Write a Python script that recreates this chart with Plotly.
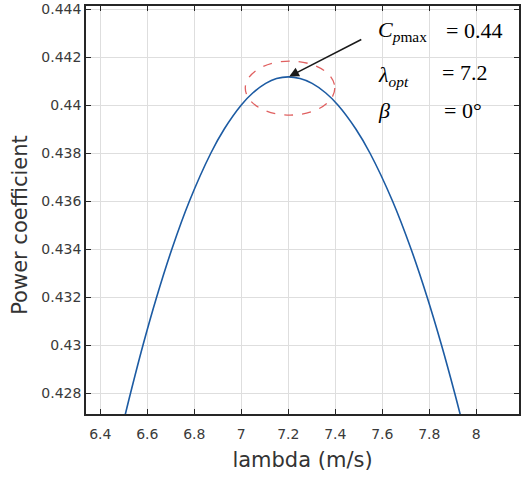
import plotly.graph_objects as go

# Data (lambda, power coefficient)
lam = [6.5036, 6.5287, 6.5817, 6.6398, 6.7046, 6.7794, 6.8706, 6.9275, 7.0000,
       7.0486, 7.1039, 7.1500, 7.2000, 7.2500, 7.3014, 7.3597, 7.4111, 7.4874,
       7.5474, 7.6436, 7.7225, 7.7908, 7.8521, 7.9081, 7.9345]
cp = [0.4270, 0.4280, 0.4300, 0.4320, 0.4340, 0.4360, 0.4380, 0.4390, 0.4400,
      0.4405, 0.4409, 0.44110, 0.44117, 0.44110, 0.4409, 0.4405, 0.4400, 0.4390,
      0.4380, 0.4360, 0.4340, 0.4320, 0.4300, 0.4280, 0.4270]
x_ticks = [6.4, 6.6, 6.8, 7.0, 7.2, 7.4, 7.6, 7.8, 8.0]
x_tick_text = ["6.4", "6.6", "6.8", "7", "7.2", "7.4", "7.6", "7.8", "8"]
y_ticks = [0.428, 0.430, 0.432, 0.434, 0.436, 0.438, 0.440, 0.442, 0.444]
y_tick_text = ["0.428", "0.43", "0.432", "0.434", "0.436", "0.438", "0.44", "0.442", "0.444"]

W, H = 521, 479
L, R, T, B = 86, 0, 6, 65
pw, ph = W - L - R, H - T - B

def px(x):
    return (x - L) / pw

def py(y):
    return (H - B - y) / ph

ipk = cp.index(max(cp))
xpk, ypk = lam[ipk], cp[ipk]

fig = go.Figure()
fig.add_trace(go.Scatter(x=lam, y=cp, mode="lines",
                         line=dict(color="#1c5ba3", width=1.6, shape="spline", smoothing=1.0),
                         showlegend=False, hoverinfo="skip"))

axis_common = dict(showline=True, linecolor="#262626", linewidth=1.5, mirror="ticks",
                   ticks="inside", ticklen=5, tickwidth=1.2, tickcolor="#262626",
                   showgrid=True, gridcolor="#dedede", gridwidth=1, zeroline=False,
                   tickfont=dict(family="DejaVu Sans", size=14, color="#3a3a3a"))

fig.update_xaxes(range=[6.339, 8.182], tickvals=x_ticks, ticktext=x_tick_text,
                 ticklabelstandoff=6,
                 title=dict(text="lambda (m/s)", font=dict(family="DejaVu Sans", size=21, color="#333333"),
                            standoff=12),
                 **axis_common)
fig.update_yaxes(range=[0.427125, 0.444125], tickvals=y_ticks, ticktext=y_tick_text,
                 **axis_common)

shapes = [
    # white box behind the text
    dict(type="rect", xref="paper", yref="paper", x0=px(375), x1=px(514), y0=py(136), y1=py(6),
         fillcolor="white", line=dict(width=0), layer="between"),
    # dashed ellipse around the maximum
    dict(type="circle", xref="x", yref="y", x0=xpk - 0.183, x1=xpk + 0.198,
         y0=ypk - 0.00159, y1=ypk + 0.00066,
         line=dict(color="#e06060", width=1.3, dash="dash")),
]

serif = dict(family="Liberation Serif", size=22, color="black")
annotations = [
    dict(x=xpk, y=ypk, xref="x", yref="y", ax=76, ay=-39, text=" ", showarrow=True,
         arrowhead=2, arrowsize=1.3, arrowwidth=1.5, arrowcolor="#1a1a1a", standoff=1),
    dict(x=px(377), y=py(31), xref="paper", yref="paper", xanchor="left", yanchor="middle",
         text="<i>C</i><sub><i>p</i>max</sub>", showarrow=False, font=serif),
    dict(x=px(446), y=py(30), xref="paper", yref="paper", xanchor="left", yanchor="middle",
         text="= 0.44", showarrow=False, font=serif),
    dict(x=px(377), y=py(76), xref="paper", yref="paper", xanchor="left", yanchor="middle",
         text="<i>λ</i><sub><i>opt</i></sub>", showarrow=False, font=serif),
    dict(x=px(442), y=py(73), xref="paper", yref="paper", xanchor="left", yanchor="middle",
         text="= 7.2", showarrow=False, font=serif),
    dict(x=px(377), y=py(111), xref="paper", yref="paper", xanchor="left", yanchor="middle",
         text="<i>β</i>", showarrow=False, font=serif),
    dict(x=px(444), y=py(111), xref="paper", yref="paper", xanchor="left", yanchor="middle",
         text="= 0°", showarrow=False, font=serif),
    dict(x=px(19.5), y=py(225), xref="paper", yref="paper", xanchor="center", yanchor="middle",
         text="Power coefficient", textangle=-90, showarrow=False,
         font=dict(family="DejaVu Sans", size=21, color="#333333")),
]

fig.update_layout(width=W, height=H, margin=dict(l=L, r=R, t=T, b=B),
                  paper_bgcolor="white", plot_bgcolor="white",
                  shapes=shapes, annotations=annotations)

fig.write_html("out.html")
